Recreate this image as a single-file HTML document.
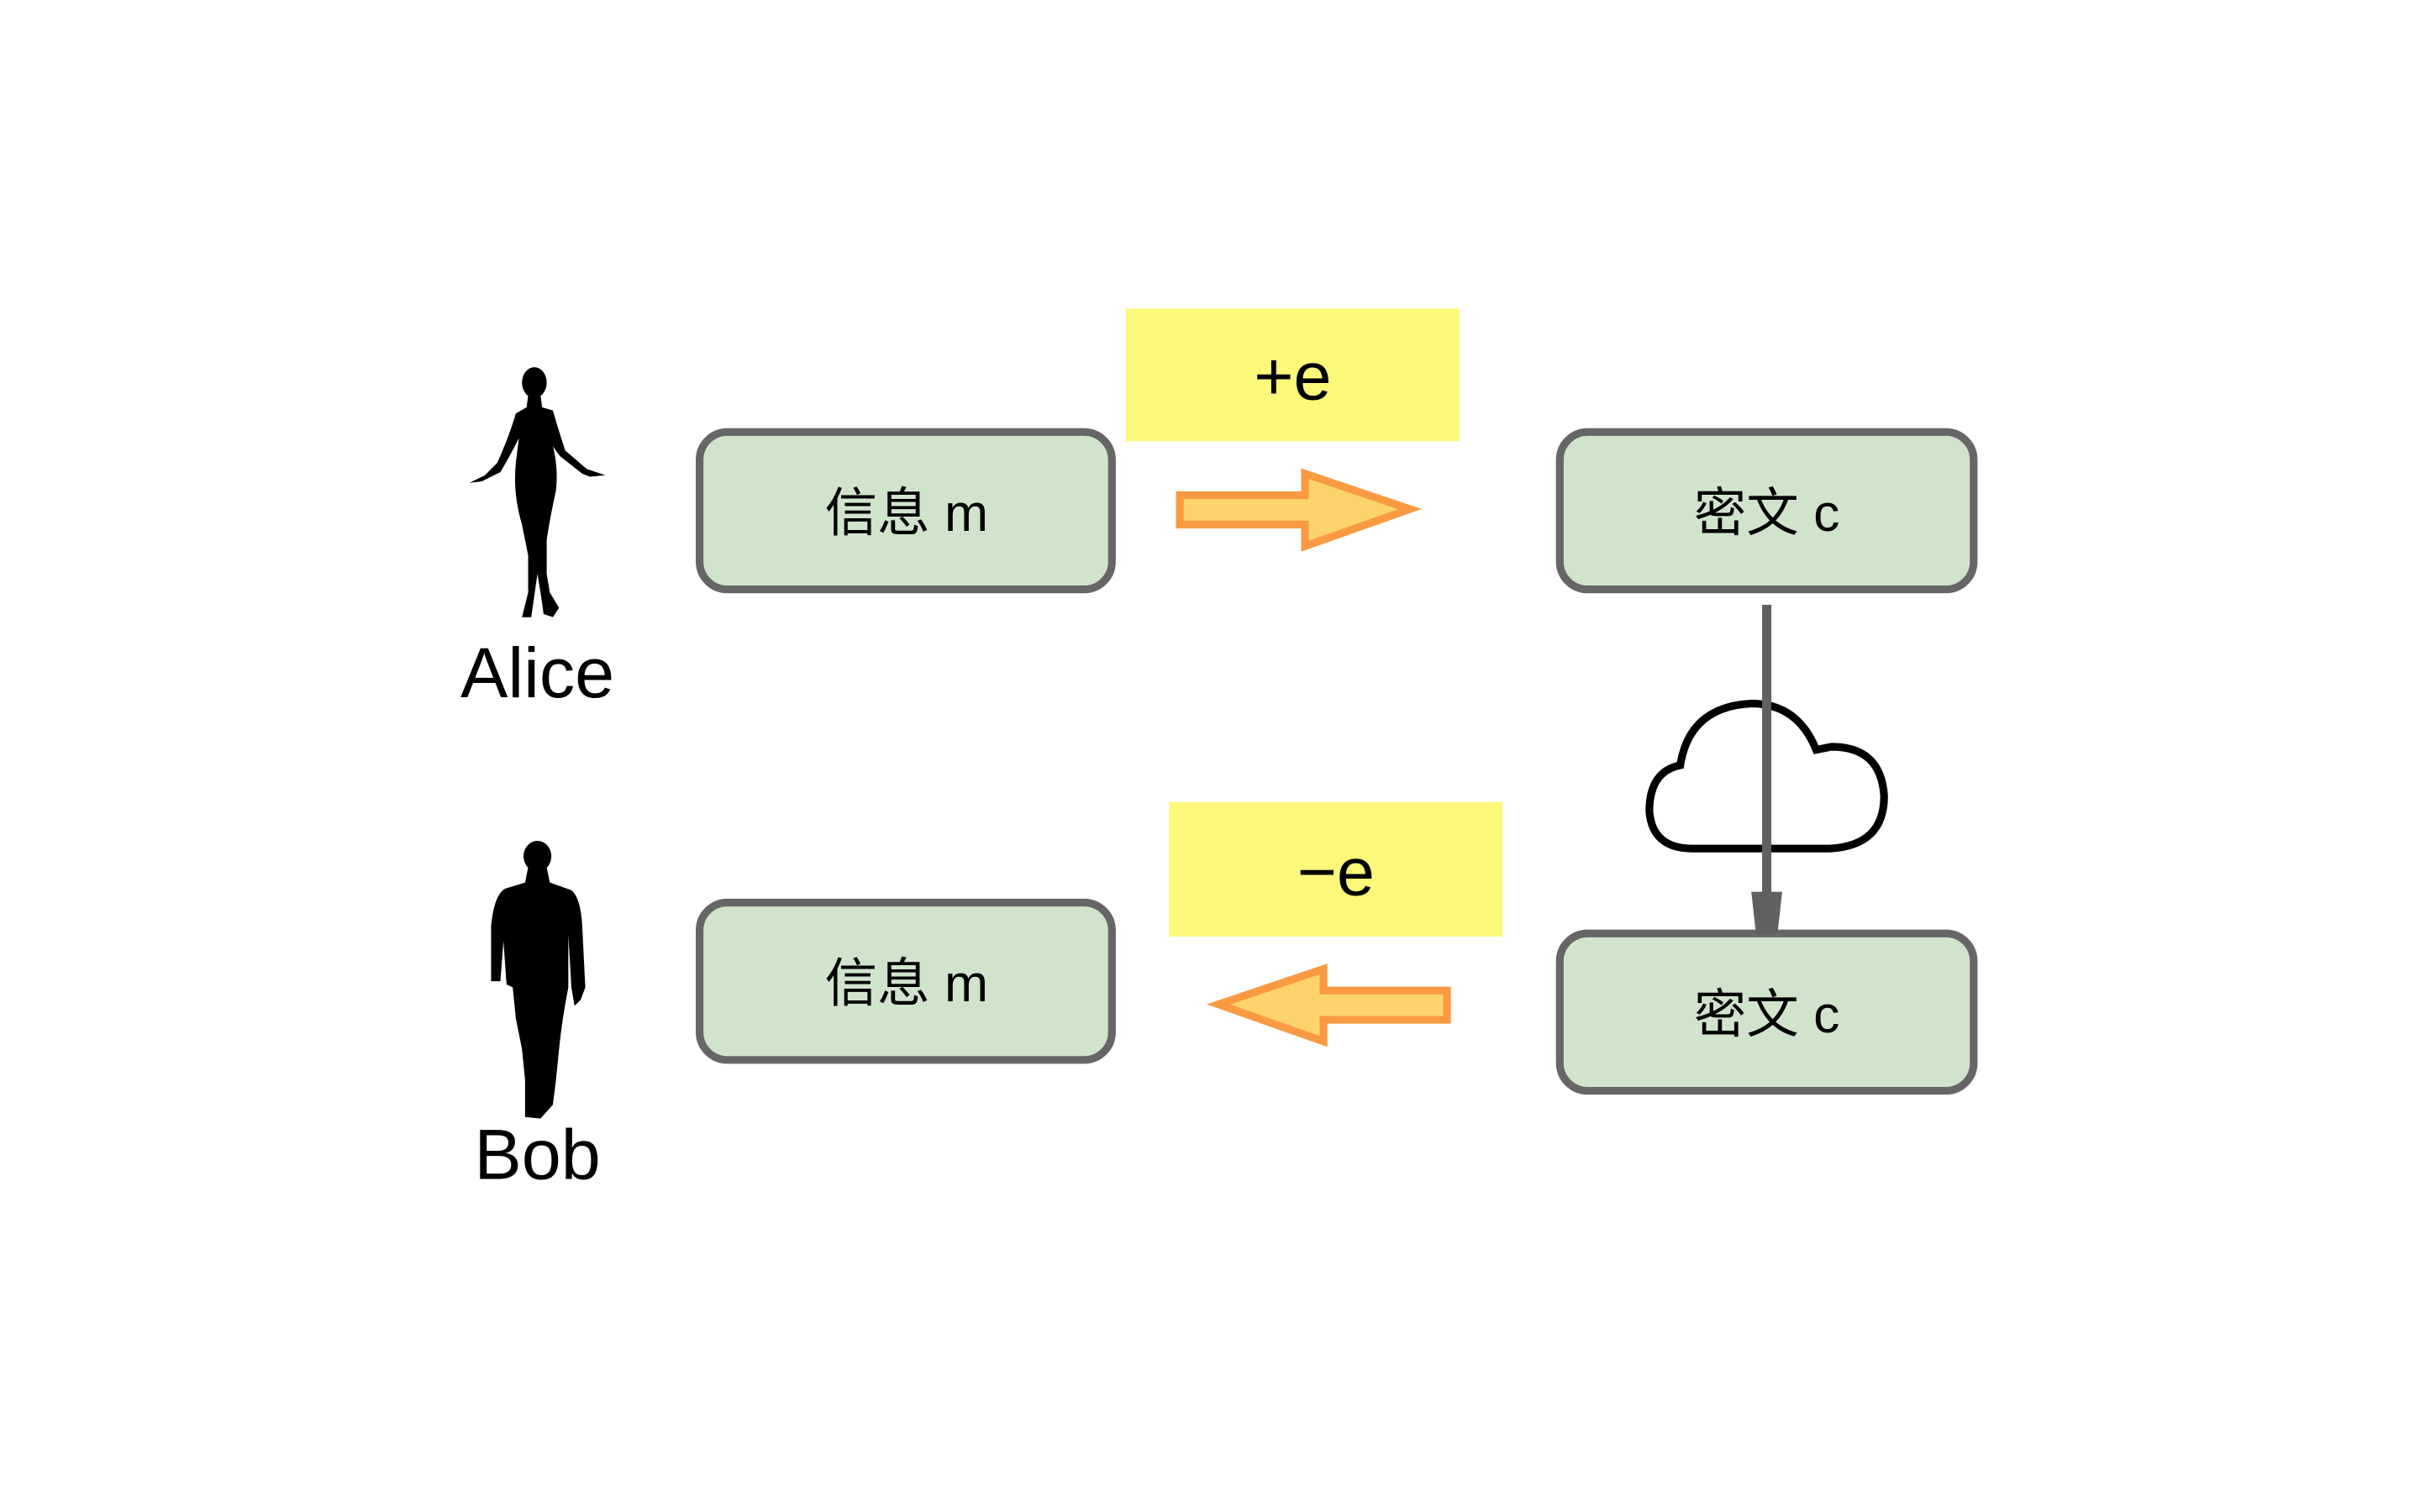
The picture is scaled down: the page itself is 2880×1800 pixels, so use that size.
<!DOCTYPE html>
<html><head><meta charset="utf-8"><style>
html,body{margin:0;padding:0;background:#fff;width:2880px;height:1800px;overflow:hidden}
svg{display:block}
text{font-family:"Liberation Sans","Noto Sans CJK SC",sans-serif}
</style></head><body>
<svg width="2880" height="1800" viewBox="0 0 1567 980" preserveAspectRatio="none" xmlns="http://www.w3.org/2000/svg">
<rect width="1567" height="980" fill="#fff"/>
<!-- Alice -->
<g fill="#000">
<ellipse cx="346" cy="248" rx="8" ry="10"/>
<path d="M342,256 L350,256 L351,264 L358,266 Q362,280 366,292 L380,304 L392,308 L382,309 L377,307 L363,296 Q356,288 356,282 Q362,300 360,318 Q356,336 354,350 L354,372 L356,384 L362,394 L358,400 L352,398 L350,384 L348,372 L346,386 L344,400 L338,400 L342,384 L342,360 L338,340 Q332,320 334,300 L336,284 Q330,296 324,306 L312,312 L304,313 L314,308 L322,300 Q330,282 334,268 L341,264 Z"/>
</g>
<!-- Bob -->
<g fill="#000">
<ellipse cx="348" cy="555" rx="9" ry="10"/>
<path d="M342,562 L354,562 L356,572 L370,577 Q376,582 377,600 L379,640 L376,648 L372,652 L370,640 L368,606 L368,640 Q364,660 362,680 L360,700 L358,716 L350,725 L340,724 L340,700 L338,680 L334,660 L332,640 L328,638 L326,610 L324,636 L318,636 L318,600 Q320,580 327,576 L340,572 Z"/>
</g>
<text x="348" y="452" font-size="46" text-anchor="middle">Alice</text>
<text x="348" y="764" font-size="46" text-anchor="middle">Bob</text>
<!-- boxes -->
<g fill="#d0e4cc" stroke="#666" stroke-width="5">
<rect x="453" y="280" width="267" height="102" rx="18"/>
<rect x="1010" y="280" width="268" height="102" rx="18"/>
<rect x="453" y="585" width="267" height="102" rx="18"/>
<rect x="1010" y="605" width="268" height="102" rx="18"/>
</g>
<g font-size="34" text-anchor="middle" fill="#000">
<text x="587" y="344">信息 m</text>
<text x="1144" y="344">密文 c</text>
<text x="587" y="649">信息 m</text>
<text x="1144" y="669">密文 c</text>
</g>
<!-- yellow labels -->
<rect x="729" y="200" width="216" height="86" fill="#fdf87a"/>
<rect x="757" y="520" width="216" height="87" fill="#fdf87a"/>
<text x="837" y="259" font-size="44" text-anchor="middle">+e</text>
<text x="865" y="580" font-size="44" text-anchor="middle">−e</text>
<!-- orange arrows -->
<path d="M764,321 L845,321 L845,307 L913,330 L845,354 L845,340 L764,340 Z" fill="#fdd36e" stroke="#f99a43" stroke-width="5"/>
<path d="M937,642 L857,642 L857,628 L789,651 L857,675 L857,661 L937,661 Z" fill="#fdd36e" stroke="#f99a43" stroke-width="5"/>
<!-- cloud -->
<path d="M1096,550 L1185,550 Q1220,548 1220,516 Q1218,484 1186,484 L1176,486 Q1164,456 1134,456 Q1094,458 1088,496 Q1068,500 1068,526 Q1070,550 1096,550 Z" fill="#fff" stroke="#000" stroke-width="5"/>
<!-- vertical connector -->
<line x1="1144" y1="392" x2="1144" y2="582" stroke="#606060" stroke-width="6"/>
<path d="M1134,578 L1154,578 L1151,605 L1137,605 Z" fill="#606060"/>
</svg>
</body></html>
